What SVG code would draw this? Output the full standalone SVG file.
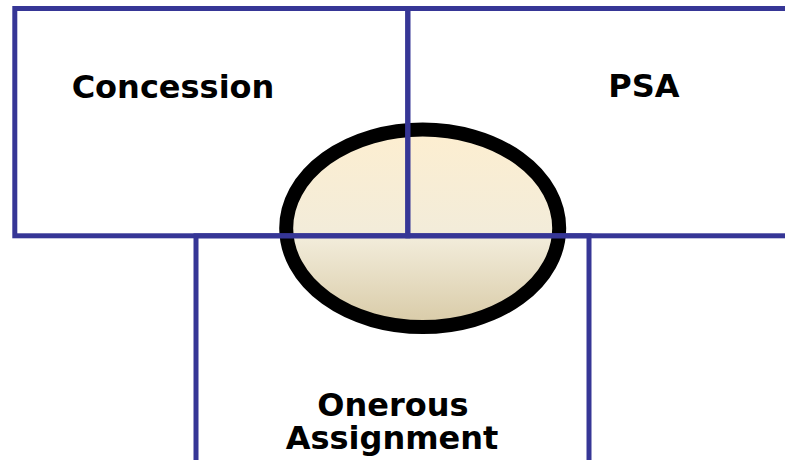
<svg xmlns="http://www.w3.org/2000/svg" width="785" height="460" viewBox="0 0 785 460">
  <defs>
    <linearGradient id="eggFill" x1="0" y1="0" x2="0" y2="1">
      <stop offset="0" stop-color="#FDEED0"/>
      <stop offset="0.55" stop-color="#F2ECDA"/>
      <stop offset="1" stop-color="#D8CAA6"/>
    </linearGradient>
  </defs>
  <style>
    .box { fill: none; stroke: #363696; stroke-width: 5; stroke-linejoin: miter; }
    .label { font-family: "DejaVu Sans", Verdana, sans-serif; font-weight: bold; font-size: 32px; fill: #000; text-anchor: middle; }
    .hub { fill: url(#eggFill); stroke: #000; stroke-width: 14; }
  </style>
  <rect width="785" height="460" fill="#fff"/>
  <g id="hub">
    <ellipse class="hub" cx="422.7" cy="228.3" rx="136.5" ry="98.8"/>
  </g>
  <g id="concession">
    <rect class="box" x="14.8" y="8.5" width="393" height="227.3"/>
    <text class="label" x="173" y="98">Concession</text>
  </g>
  <g id="psa">
    <rect class="box" x="407.8" y="8.5" width="400" height="227.3"/>
    <text class="label" x="644" y="97">PSA</text>
  </g>
  <g id="onerous">
    <rect class="box" x="196" y="235.8" width="393" height="260"/>
    <text class="label" x="393" y="416">Onerous</text>
    <text class="label" x="392" y="449">Assignment</text>
  </g>
  <g id="connectors"/>
</svg>
